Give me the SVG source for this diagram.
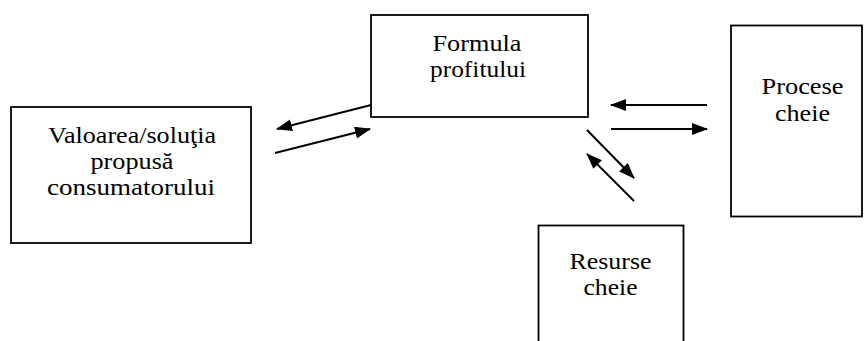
<svg xmlns="http://www.w3.org/2000/svg" width="864" height="341" viewBox="0 0 864 341">
<style>
  .box { fill: #ffffff; stroke: #000000; stroke-width: 1.8; }
  .lbl { font-family: "Liberation Serif", "Times New Roman", serif; font-size: 23px; fill: #000000; text-anchor: middle; }
  .conn { stroke: #000000; stroke-width: 2; fill: none; marker-end: url(#arrow); }
</style>
<defs>
  <marker id="arrow" markerUnits="userSpaceOnUse" markerWidth="17" markerHeight="13" refX="15" refY="6" orient="auto">
    <path d="M0,0 L16,6 L0,12 z" fill="#000000"/>
  </marker>
</defs>
<rect width="864" height="341" fill="#ffffff"/>
<g id="valoarea">
  <rect class="box" x="11" y="107" width="240" height="136"/>
  <text class="lbl" x="132" y="143" textLength="168" lengthAdjust="spacingAndGlyphs">Valoarea/soluţia</text>
  <text class="lbl" x="132" y="169" textLength="83" lengthAdjust="spacingAndGlyphs">propusă</text>
  <text class="lbl" x="131" y="195" textLength="168" lengthAdjust="spacingAndGlyphs">consumatorului</text>
</g>
<g id="formula">
  <rect class="box" x="371" y="15" width="217" height="102"/>
  <text class="lbl" x="477" y="51" textLength="89" lengthAdjust="spacingAndGlyphs">Formula</text>
  <text class="lbl" x="478" y="77" textLength="96" lengthAdjust="spacingAndGlyphs">profitului</text>
</g>
<g id="procese">
  <rect class="box" x="731" y="25.5" width="131" height="191"/>
  <text class="lbl" x="802.5" y="94" textLength="82" lengthAdjust="spacingAndGlyphs">Procese</text>
  <text class="lbl" x="802.5" y="121" textLength="55" lengthAdjust="spacingAndGlyphs">cheie</text>
</g>
<g id="resurse">
  <rect class="box" x="538.5" y="225.5" width="145" height="130"/>
  <text class="lbl" x="610.5" y="269" textLength="82" lengthAdjust="spacingAndGlyphs">Resurse</text>
  <text class="lbl" x="610.5" y="295" textLength="54" lengthAdjust="spacingAndGlyphs">cheie</text>
</g>
<g id="connectors">
  <line class="conn" x1="371" y1="105" x2="277" y2="129"/>
  <line class="conn" x1="275" y1="153" x2="370" y2="129"/>
  <line class="conn" x1="707" y1="105" x2="611" y2="105"/>
  <line class="conn" x1="611" y1="129" x2="707" y2="129"/>
  <line class="conn" x1="587" y1="130" x2="634" y2="178"/>
  <line class="conn" x1="634" y1="201" x2="587" y2="154"/>
</g>
</svg>
